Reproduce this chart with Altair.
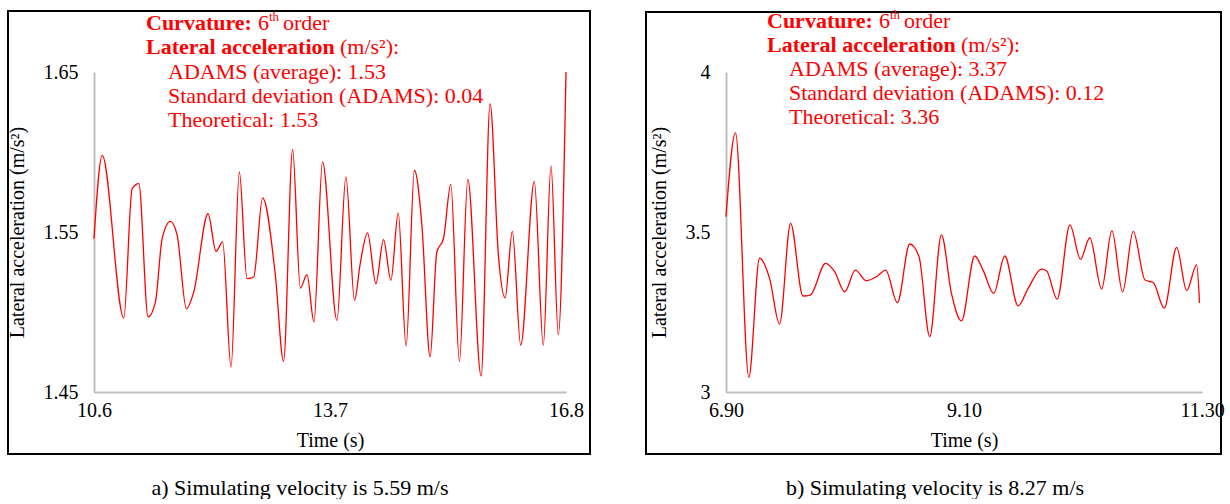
import altair as alt
import pandas as pd

# ---- data: panel a (v = 5.59 m/s) ----
t_a = [10.600, 10.708, 10.991, 11.101, 11.188, 11.311, 11.407, 11.495, 11.604, 11.692,
       11.814, 11.910, 12.098, 12.203, 12.290, 12.400, 12.509, 12.610, 12.697, 12.815,
       12.982, 13.090, 13.209, 13.310, 13.398, 13.489, 13.602, 13.791, 13.909, 14.022,
       14.097, 14.193, 14.303, 14.403, 14.500, 14.596, 14.700, 14.809, 14.907, 15.015,
       15.103, 15.190, 15.287, 15.400, 15.510, 15.685, 15.803, 15.912, 16.000, 16.095,
       16.205, 16.384, 16.502, 16.603, 16.699, 16.800]
v_a = [1.5458, 1.5979, 1.4963, 1.5771, 1.5802, 1.4969, 1.5063, 1.5458, 1.5567, 1.5481,
       1.5021, 1.5125, 1.5614, 1.5379, 1.5438, 1.4656, 1.5875, 1.5208, 1.5219, 1.5713,
       1.5231, 1.4692, 1.6017, 1.5150, 1.5233, 1.4938, 1.5938, 1.4948, 1.5844, 1.5073,
       1.5302, 1.5494, 1.5177, 1.5452, 1.5198, 1.5619, 1.4788, 1.5886, 1.5544, 1.4719,
       1.5375, 1.5458, 1.5798, 1.4692, 1.5829, 1.4600, 1.6302, 1.5354, 1.5088, 1.5504,
       1.4792, 1.5817, 1.4792, 1.5913, 1.4858, 1.6500]

# ---- data: panel b (v = 8.27 m/s) ----
t_b = [6.900, 6.988, 7.111, 7.210, 7.303, 7.395, 7.497, 7.611, 7.679, 7.821,
       7.904, 7.997, 8.096, 8.197, 8.290, 8.376, 8.484, 8.598, 8.684, 8.783,
       8.891, 8.984, 9.076, 9.199, 9.276, 9.375, 9.477, 9.600, 9.693, 9.817,
       9.863, 9.961, 10.079, 10.177, 10.263, 10.372, 10.467, 10.566, 10.664, 10.773,
       10.849, 10.951, 11.066, 11.158, 11.251, 11.277]
v_b = [3.548, 3.810, 3.046, 3.418, 3.355, 3.2125, 3.527, 3.300, 3.303, 3.402,
       3.376, 3.313, 3.381, 3.348, 3.360, 3.381, 3.279, 3.4625, 3.423, 3.173,
       3.491, 3.308, 3.222, 3.425, 3.381, 3.308, 3.425, 3.269, 3.324, 3.384,
       3.379, 3.290, 3.522, 3.415, 3.482, 3.322, 3.504, 3.313, 3.502, 3.350,
       3.342, 3.262, 3.452, 3.317, 3.397, 3.278]

x_ticks_a = [10.6, 13.7, 16.8]
y_ticks_a = [1.45, 1.55, 1.65]
x_ticks_b = [6.9, 9.1, 11.3]
y_ticks_b = [3, 3.5, 4]

ann_a = ["ADAMS (average): 1.53", "Standard deviation (ADAMS): 0.04", "Theoretical: 1.53"]
ann_b = ["ADAMS (average): 3.37", "Standard deviation (ADAMS): 0.12", "Theoretical: 3.36"]
cap_a = "a) Simulating velocity is 5.59 m/s"
cap_b = "b) Simulating velocity is 8.27 m/s"

FONT = "Liberation Serif"
RED = "#ff0000"
ONE = alt.Data(values=[{}])


def txt(s, x, y, size=22, bold=False, align="left", color=RED):
    return alt.Chart(ONE).mark_text(
        text=s, font=FONT, fontSize=size, fontWeight="bold" if bold else "normal",
        color=color, align=align, baseline="alphabetic"
    ).encode(x=alt.value(x), y=alt.value(y))


def panel(t, v, xdom, xticks, xfmt, ydom, yticks, yfmt, width, ax, ys, ann, box, caption, capx):
    df = pd.DataFrame({"t": t, "v": v})
    line = alt.Chart(df).mark_line(color=RED, strokeWidth=1.3, interpolate="monotone").encode(
        x=alt.X("t:Q", scale=alt.Scale(domain=xdom, nice=False, zero=False),
                axis=alt.Axis(values=xticks, format=xfmt, title="Time (s)", labelFlush=False)),
        y=alt.Y("v:Q", scale=alt.Scale(domain=ydom, nice=False, zero=False),
                axis=alt.Axis(values=yticks, format=yfmt, title="Lateral acceleration (m/s²)")),
    )
    border = alt.Chart(ONE).mark_rect(fillOpacity=0, stroke="black", strokeWidth=2).encode(
        x=alt.value(box[0]), x2=alt.value(box[1]), y=alt.value(box[2]), y2=alt.value(box[3])
    )
    layers = [border, line,
              txt("Curvature:", ax, ys[0], bold=True),
              txt("6", ax + 112, ys[0]),
              txt("th", ax + 123, ys[0] - 9, size=13),
              txt("order", ax + 137, ys[0]),
              txt("Lateral acceleration", ax, ys[1], bold=True),
              txt("(m/s²):", ax + 194, ys[1]),
              txt(ann[0], ax + 22, ys[2]),
              txt(ann[1], ax + 22, ys[3]),
              txt(ann[2], ax + 22, ys[4]),
              txt(caption, capx, 423, size=22, align="center", color="black")]
    return alt.layer(*layers).properties(width=width, height=320)


left = panel(t_a, v_a, [10.6, 16.8], x_ticks_a, ".1f", [1.45, 1.65], y_ticks_a, ".2f", 472,
             52, [-42, -18, 7, 31, 55], ann_a, (-86, 496, -61, 382), cap_a, 206)
right = panel(t_b, v_b, [6.9, 11.3], x_ticks_b, ".2f", [3, 4], y_ticks_b, ".1~f", 476,
              41, [-44, -20, 4, 28, 52], ann_b, (-80, 495, -60, 382), cap_b, 209)

chart = alt.hconcat(left, right, spacing=160, bounds="flush").properties(
    padding={"left": 7, "top": 9, "right": 0, "bottom": 0},
    background="white",
).configure_view(stroke=None).configure_axis(
    grid=False, ticks=False, domainColor="#bfbfbf", domainWidth=2,
    labelFont=FONT, labelFontSize=20, labelColor="black",
    titleFont=FONT, titleFontSize=20, titleFontWeight="normal", titleColor="black",
).configure_axisX(labelPadding=8, titlePadding=10).configure_axisY(labelPadding=16, titlePadding=16)

chart.save("out.html", embed_options={"renderer": "svg", "actions": False})
